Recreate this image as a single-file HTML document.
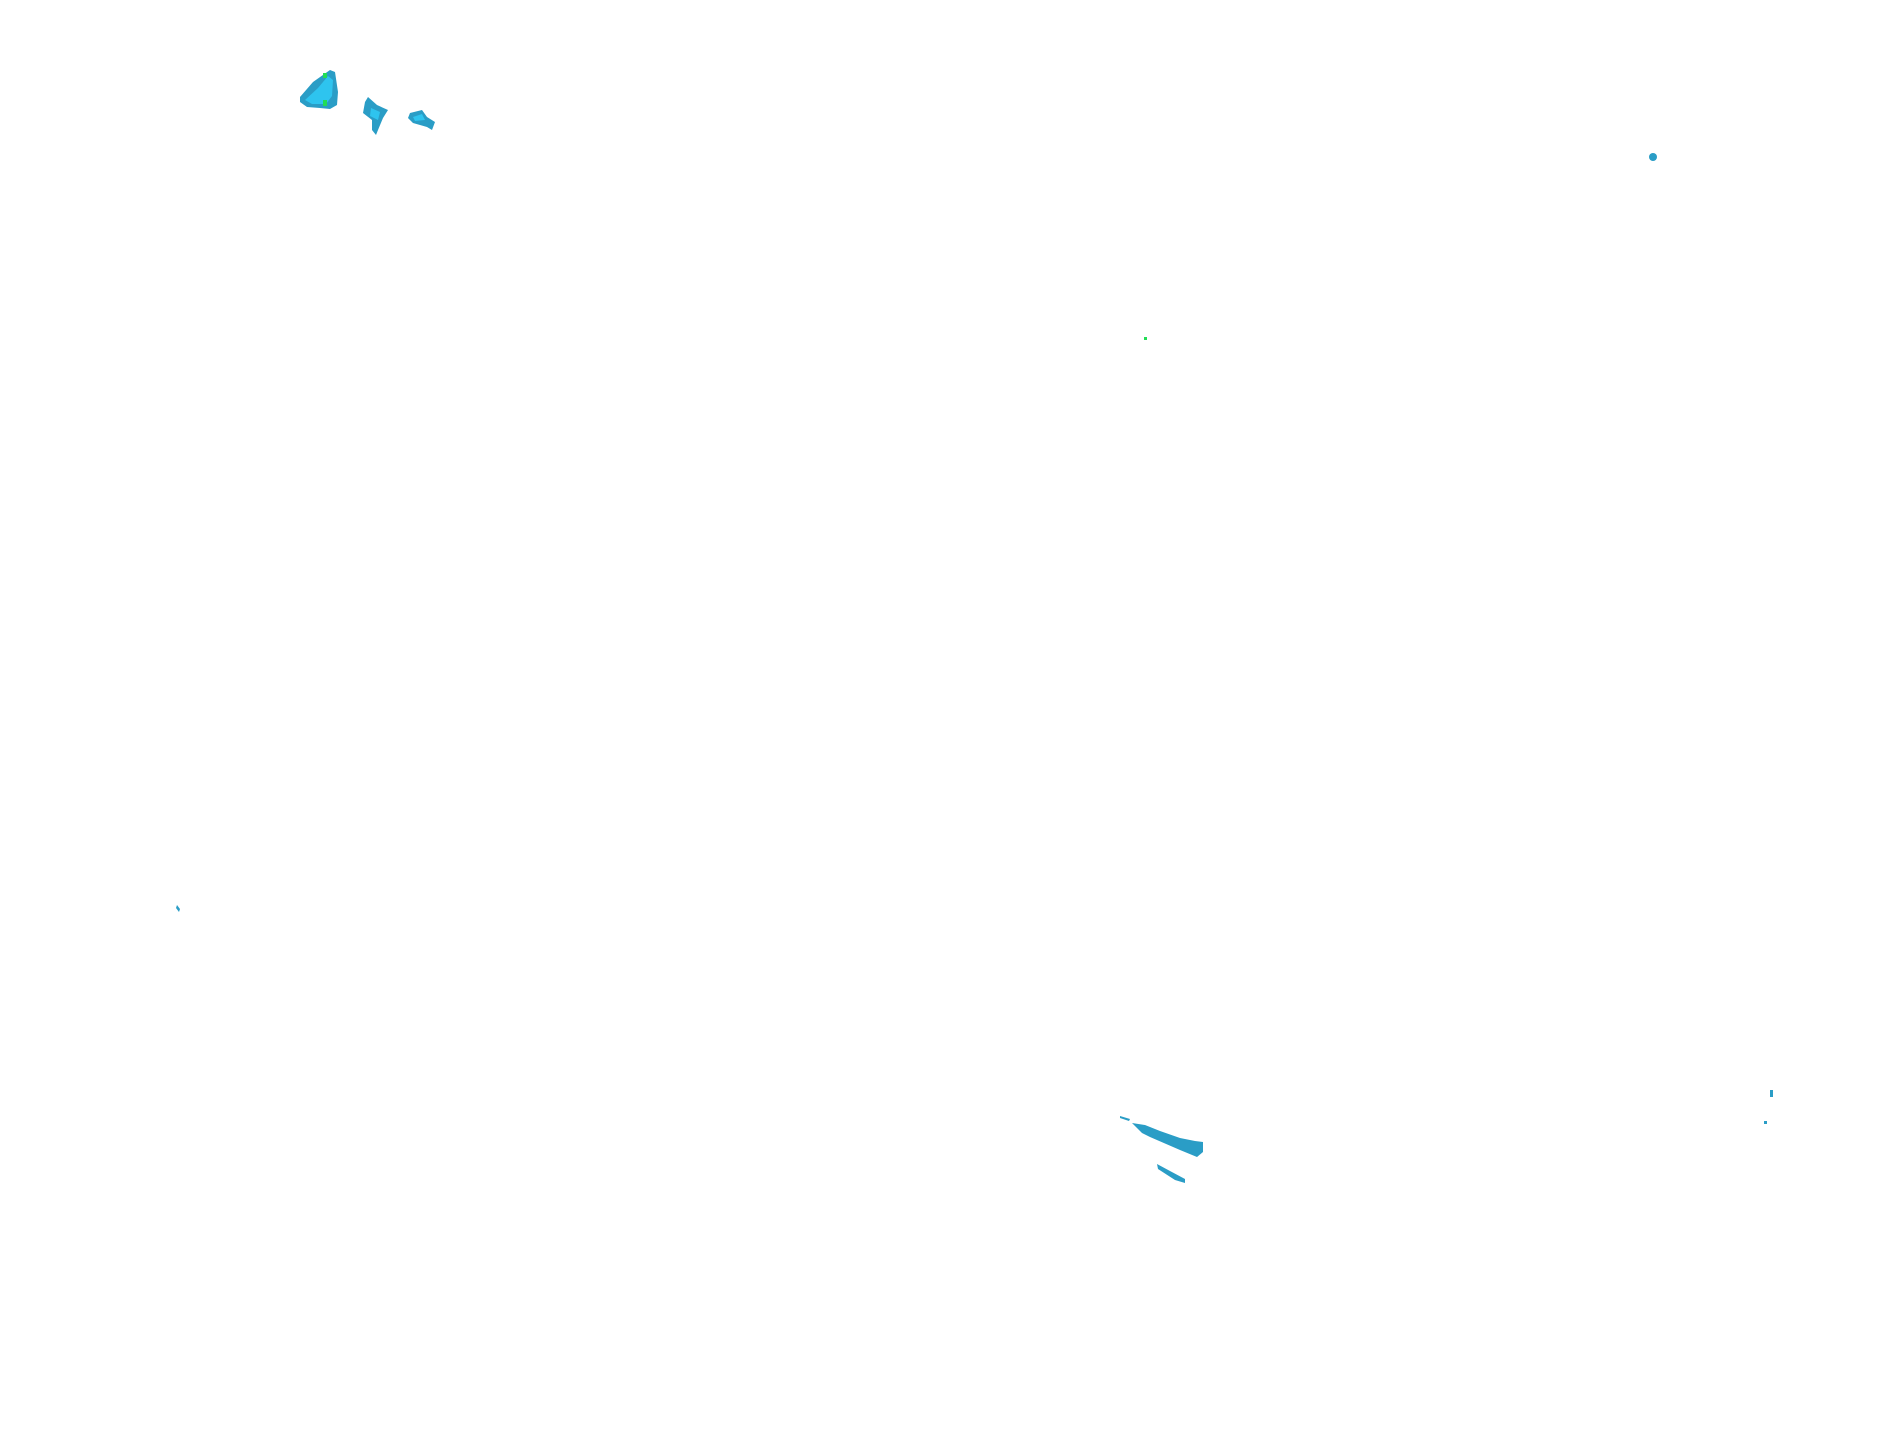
<!DOCTYPE html>
<html><head><meta charset="utf-8"><style>html,body{margin:0;padding:0;background:#fff;width:1904px;height:1441px;overflow:hidden}</style></head>
<body>
<svg width="1904" height="1441" viewBox="0 0 1904 1441" xmlns="http://www.w3.org/2000/svg">
<g fill="#2a9dc6">
<polygon points="300,97 313,82 330,70 335,72 338,92 337,105 330,109 320,108 307,107 300,102"/>
<polygon points="368,97 377,105 388,110 383,118 378,130 376,135 372,130 372,120 363,113 365,102"/>
<polygon points="410,113 422,110 427,117 435,122 432,130 427,127 413,123 408,118"/>
<polygon points="1132,1123 1145,1125 1160,1131 1180,1138 1195,1141 1203,1142 1203,1152 1197,1157 1180,1150 1150,1137 1142,1133"/>
<polygon points="1157,1164 1170,1171 1185,1179 1185,1183 1175,1180 1158,1169"/>
<polygon points="1120,1116 1130,1119 1129,1121 1120,1118"/>
<circle cx="1653" cy="157" r="4"/>
<polygon points="177,905 180,909 179,912 176,908"/>
<rect x="1770" y="1090" width="3" height="7"/>
<rect x="1764" y="1121" width="3" height="3"/>
</g>
<g fill="#2ec4ef">
<polygon points="305,100 318,88 328,76 333,80 332,96 326,104 312,104"/>
<polygon points="371,108 380,112 378,120 370,116"/>
<polygon points="413,117 422,114 425,120 415,121"/>
</g>
<g fill="#22dd55">
<rect x="323" y="73" width="4" height="5"/>
<rect x="323" y="100" width="4" height="6"/>
<rect x="1144" y="337" width="3" height="3"/>
</g>
</svg>
</body></html>
